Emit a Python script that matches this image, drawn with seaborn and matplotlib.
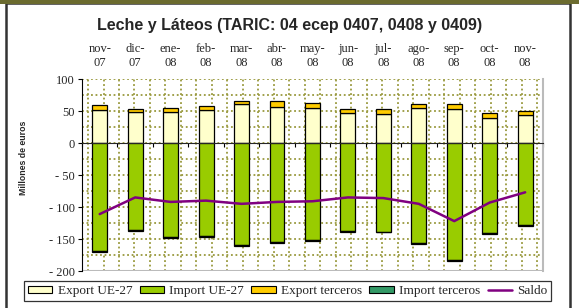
import numpy as np
import matplotlib
matplotlib.use("Agg")
import matplotlib.pyplot as plt
import seaborn as sns
from matplotlib.patches import Rectangle, Patch
from matplotlib.lines import Line2D

# Datos (millones de euros)
meses = ["nov-\n07", "dic-\n07", "ene-\n08", "feb-\n08", "mar-\n08", "abr-\n08", "may-\n08",
         "jun-\n08", "jul-\n08", "ago-\n08", "sep-\n08", "oct-\n08", "nov-\n08"]
export_ue = [51, 48, 48, 52, 60.5, 56, 54, 47, 46, 55, 53, 39.5, 44]
import_ue = [-169, -136, -147, -146, -160, -154, -152, -138, -138.5, -156, -182, -141, -128]
export_terceros = [9, 4.5, 7, 6.5, 5.5, 9, 8, 6.5, 7, 6, 8, 8, 6.5]
import_terceros = [-2, -1, -1, -1, -1, -2, -1, -1, -1, -1, -2, -1.5, -1]
saldo = [-111, -85, -92, -90, -95, -92, -91, -85, -86, -95, -122, -93, -77]

sns.set_style("white")
plt.rcParams["font.family"] = ["Liberation Serif", "DejaVu Serif"]
plt.rcParams["axes.unicode_minus"] = False

fig = plt.figure(figsize=(5.79, 3.08), dpi=100)
ax = fig.add_axes([0.1416, 0.120, 0.796, 0.6234])

pos = np.arange(len(meses))
oliva = "#99993D"

# fondo punteado (trama de Excel)
for xv in np.arange(-0.5 + 0.17, 12.5, 0.437):
    ax.axvline(xv, color=oliva, ls=(0, (1, 1.5)), lw=1.3, zorder=0)
for yv in np.arange(-200, 101, 25):
    ax.axhline(yv, color=oliva, ls=(0, (1, 1.5)), lw=1.3, zorder=0)
ax.axhline(-200, color="#BBBBBB", lw=1.5, zorder=1)

w = 0.42
kw = dict(width=w, edgecolor="black", linewidth=0.9, zorder=3, saturation=1, ax=ax)
sns.barplot(x=pos, y=export_ue, color="#FFFFCC", **kw)
sns.barplot(x=pos, y=export_terceros, bottom=export_ue, color="#FFCC00", **kw)
sns.barplot(x=pos, y=import_ue, color="#99CC00", **kw)
sns.barplot(x=pos, y=import_terceros, bottom=import_ue, color="#339966", **kw)
sns.lineplot(x=pos, y=saldo, color="#800080", lw=1.8, zorder=4, ax=ax)

ax.set_xlim(-0.5, 12.5)
ax.set_ylim(-200, 100)
ax.set_yticks(np.arange(-200, 101, 50))
ax.set_yticklabels([str(v).replace("-", "- ") for v in range(-200, 101, 50)])
ax.tick_params(axis="y", labelsize=9, length=3, color="black", left=True, pad=2)

# eje x en el cero con marcas en los límites de categoría
ax.spines["bottom"].set_position(("data", 0))
ax.spines["bottom"].set_zorder(5)
ax.set_xticks(np.arange(-0.5, 12.6, 1))
ax.set_xticklabels([])
ax.tick_params(axis="x", bottom=True, length=3, direction="out", color="black")
ax.spines["left"].set_color("black")
ax.spines["top"].set_visible(False)
ax.spines["right"].set_color("#BBBBBB")
ax.spines["right"].set_linewidth(1.5)
ax.set_xlabel("")

top = ax.secondary_xaxis("top")
top.set_xticks(pos)
top.set_xticklabels(meses, fontsize=9, linespacing=1.3)
top.tick_params(length=0, pad=7)
top.spines["top"].set_visible(False)

ax.set_ylabel("Millones de euros", fontsize=6.3, fontweight="bold",
              family=["Liberation Sans", "DejaVu Sans"])
ax.yaxis.set_label_coords(-0.118, 0.59)

fig.text(0.5, 0.917, "Leche y Láteos (TARIC: 04 ecep 0407, 0408 y 0409)",
         ha="center", va="center", fontsize=11.5, fontweight="bold",
         family=["Liberation Sans", "DejaVu Sans"])

# leyenda
handles = [Patch(facecolor="#FFFFCC", edgecolor="black", lw=0.8),
           Patch(facecolor="#99CC00", edgecolor="black", lw=0.8),
           Patch(facecolor="#FFCC00", edgecolor="black", lw=0.8),
           Patch(facecolor="#339966", edgecolor="black", lw=0.8),
           Line2D([], [], color="#800080", lw=1.8)]
labels = ["Export UE-27", "Import UE-27", "Export terceros", "Import terceros", "Saldo"]
leg = fig.legend(handles, labels, loc="center", bbox_to_anchor=(0.497, 0.0545), ncol=5,
                 fontsize=9.5, frameon=True, fancybox=False, edgecolor="black",
                 handlelength=1.85, handleheight=0.45, handletextpad=0.4, columnspacing=0.55,
                 borderpad=0.3, borderaxespad=0)
leg.get_frame().set_linewidth(0.9)

# marco exterior
fig.patches.append(Rectangle((6 / 579, -0.05), 564 / 579, 1.04, transform=fig.transFigure,
                             fill=False, edgecolor="#333333", lw=1.8))
fig.patches.append(Rectangle((0, 1 - 4 / 308), 1, 4 / 308, transform=fig.transFigure,
                             facecolor="#6B6B2F", edgecolor="none"))

fig.savefig("out.png", dpi=100)
